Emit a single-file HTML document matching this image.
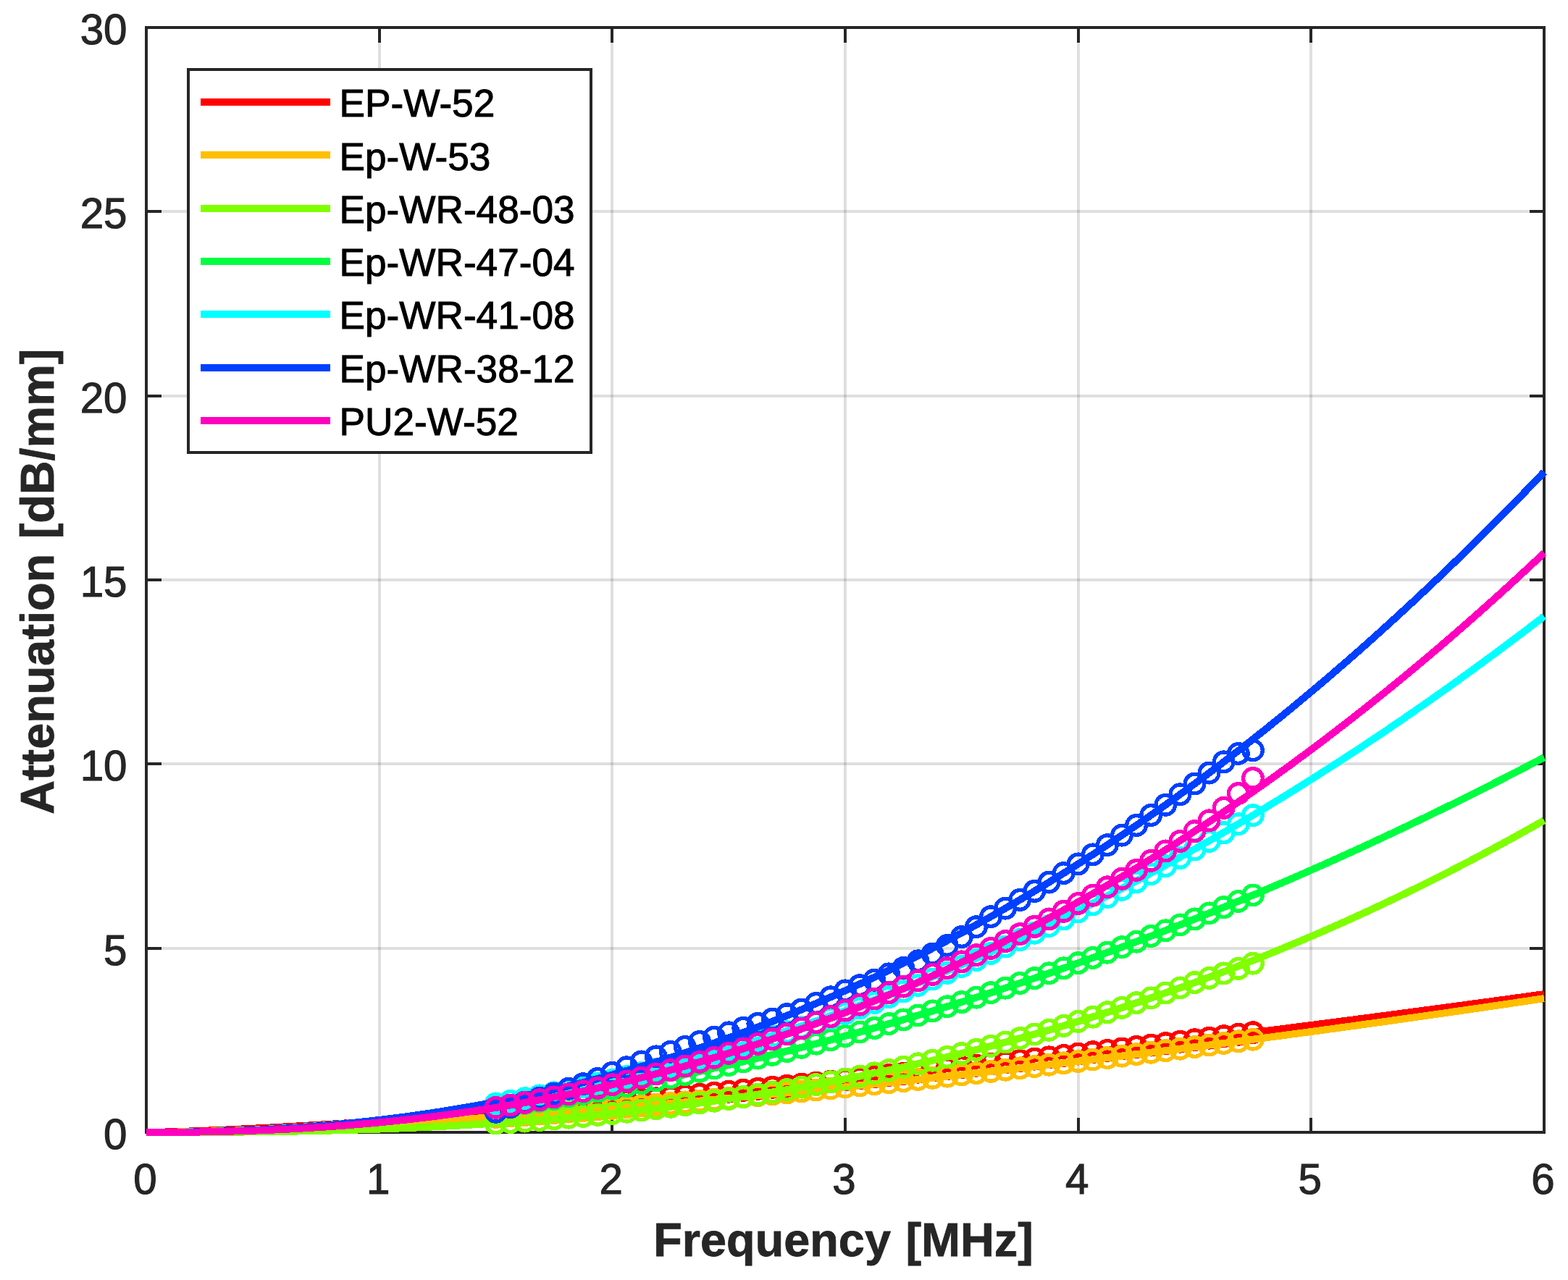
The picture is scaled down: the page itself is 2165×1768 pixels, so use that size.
<!DOCTYPE html><html><head><meta charset="utf-8"><style>
html,body{margin:0;padding:0;background:#fff;}svg{display:block;}polyline,path,line,rect{shape-rendering:crispEdges;}
text{font-family:"Liberation Sans",Arial,sans-serif;}
</style></head><body>
<svg width="2165" height="1768" viewBox="0 0 2165 1768">
<rect width="2165" height="1768" fill="#ffffff"/>
<path d="M523.67 38.00V1564.00M845.33 38.00V1564.00M1167.00 38.00V1564.00M1488.67 38.00V1564.00M1810.33 38.00V1564.00" stroke="#262626" stroke-opacity="0.15" stroke-width="3.8" fill="none"/>
<path d="M202.00 1309.67H2132.00M202.00 1055.33H2132.00M202.00 801.00H2132.00M202.00 546.67H2132.00M202.00 292.33H2132.00" stroke="#262626" stroke-opacity="0.15" stroke-width="3.8" fill="none"/>
<path d="M523.67 1564.00V1543.50M523.67 38.00V58.50M845.33 1564.00V1543.50M845.33 38.00V58.50M1167.00 1564.00V1543.50M1167.00 38.00V58.50M1488.67 1564.00V1543.50M1488.67 38.00V58.50M1810.33 1564.00V1543.50M1810.33 38.00V58.50M202.00 1309.67H222.50M2132.00 1309.67H2111.50M202.00 1055.33H222.50M2132.00 1055.33H2111.50M202.00 801.00H222.50M2132.00 801.00H2111.50M202.00 546.67H222.50M2132.00 546.67H2111.50M202.00 292.33H222.50M2132.00 292.33H2111.50" stroke="#262626" stroke-width="3.8" fill="none"/>
<rect x="202.0" y="38.0" width="1930.0" height="1526.0" stroke="#262626" stroke-width="3.8" fill="none"/>
<polyline points="202.00,1564.00 218.08,1563.76 234.17,1563.37 250.25,1562.89 266.33,1562.34 282.42,1561.74 298.50,1561.08 314.58,1560.38 330.67,1559.64 346.75,1558.86 362.83,1558.04 378.92,1557.20 395.00,1556.32 411.08,1555.41 427.17,1554.47 443.25,1553.51 459.33,1552.52 475.42,1551.51 491.50,1550.47 507.58,1549.41 523.67,1548.33 539.75,1547.23 555.83,1546.10 571.92,1544.96 588.00,1543.79 604.08,1542.61 620.17,1541.41 636.25,1540.18 652.33,1538.94 668.42,1537.69 684.50,1536.41 700.58,1535.12 716.67,1533.81 732.75,1532.49 748.83,1531.15 764.92,1529.79 781.00,1528.42 797.08,1527.03 813.17,1525.63 829.25,1524.22 845.33,1522.78 861.42,1521.34 877.50,1519.88 893.58,1518.41 909.67,1516.92 925.75,1515.42 941.83,1513.91 957.92,1512.38 974.00,1510.84 990.08,1509.29 1006.17,1507.73 1022.25,1506.15 1038.33,1504.56 1054.42,1502.96 1070.50,1501.35 1086.58,1499.73 1102.67,1498.09 1118.75,1496.44 1134.83,1494.78 1150.92,1493.11 1167.00,1491.43 1183.08,1489.73 1199.17,1488.03 1215.25,1486.32 1231.33,1484.59 1247.42,1482.85 1263.50,1481.11 1279.58,1479.35 1295.67,1477.58 1311.75,1475.80 1327.83,1474.01 1343.92,1472.21 1360.00,1470.40 1376.08,1468.59 1392.17,1466.76 1408.25,1464.92 1424.33,1463.07 1440.42,1461.21 1456.50,1459.34 1472.58,1457.47 1488.67,1455.58 1504.75,1453.69 1520.83,1451.78 1536.92,1449.87 1553.00,1447.94 1569.08,1446.01 1585.17,1444.07 1601.25,1442.12 1617.33,1440.16 1633.42,1438.19 1649.50,1436.22 1665.58,1434.23 1681.67,1432.24 1697.75,1430.23 1713.83,1428.22 1729.92,1426.20 1746.00,1424.17 1762.08,1422.14 1778.17,1420.09 1794.25,1418.04 1810.33,1415.98 1826.42,1413.91 1842.50,1411.83 1858.58,1409.75 1874.67,1407.65 1890.75,1405.55 1906.83,1403.44 1922.92,1401.32 1939.00,1399.20 1955.08,1397.06 1971.17,1394.92 1987.25,1392.77 2003.33,1390.62 2019.42,1388.45 2035.50,1386.28 2051.58,1384.10 2067.67,1381.92 2083.75,1379.72 2099.83,1377.52 2115.92,1375.31 2132.00,1373.10" stroke="#ff0000" stroke-width="10.0" fill="none" stroke-linejoin="round"/>
<path d="M671.20 1536.41a13.3 13.3 0 1 0 26.6 0a13.3 13.3 0 1 0 -26.6 0M691.30 1534.79a13.3 13.3 0 1 0 26.6 0a13.3 13.3 0 1 0 -26.6 0M711.41 1533.15a13.3 13.3 0 1 0 26.6 0a13.3 13.3 0 1 0 -26.6 0M731.51 1531.48a13.3 13.3 0 1 0 26.6 0a13.3 13.3 0 1 0 -26.6 0M751.62 1529.79a13.3 13.3 0 1 0 26.6 0a13.3 13.3 0 1 0 -26.6 0M771.72 1528.07a13.3 13.3 0 1 0 26.6 0a13.3 13.3 0 1 0 -26.6 0M791.83 1526.33a13.3 13.3 0 1 0 26.6 0a13.3 13.3 0 1 0 -26.6 0M811.93 1524.57a13.3 13.3 0 1 0 26.6 0a13.3 13.3 0 1 0 -26.6 0M832.03 1522.78a13.3 13.3 0 1 0 26.6 0a13.3 13.3 0 1 0 -26.6 0M852.14 1520.98a13.3 13.3 0 1 0 26.6 0a13.3 13.3 0 1 0 -26.6 0M872.24 1519.15a13.3 13.3 0 1 0 26.6 0a13.3 13.3 0 1 0 -26.6 0M892.35 1517.29a13.3 13.3 0 1 0 26.6 0a13.3 13.3 0 1 0 -26.6 0M912.45 1515.42a13.3 13.3 0 1 0 26.6 0a13.3 13.3 0 1 0 -26.6 0M932.55 1513.53a13.3 13.3 0 1 0 26.6 0a13.3 13.3 0 1 0 -26.6 0M952.66 1511.62a13.3 13.3 0 1 0 26.6 0a13.3 13.3 0 1 0 -26.6 0M972.76 1509.68a13.3 13.3 0 1 0 26.6 0a13.3 13.3 0 1 0 -26.6 0M992.87 1507.73a13.3 13.3 0 1 0 26.6 0a13.3 13.3 0 1 0 -26.6 0M1012.97 1505.76a13.3 13.3 0 1 0 26.6 0a13.3 13.3 0 1 0 -26.6 0M1033.08 1503.76a13.3 13.3 0 1 0 26.6 0a13.3 13.3 0 1 0 -26.6 0M1053.18 1501.75a13.3 13.3 0 1 0 26.6 0a13.3 13.3 0 1 0 -26.6 0M1073.28 1499.73a13.3 13.3 0 1 0 26.6 0a13.3 13.3 0 1 0 -26.6 0M1093.39 1497.68a13.3 13.3 0 1 0 26.6 0a13.3 13.3 0 1 0 -26.6 0M1113.49 1495.61a13.3 13.3 0 1 0 26.6 0a13.3 13.3 0 1 0 -26.6 0M1133.60 1493.53a13.3 13.3 0 1 0 26.6 0a13.3 13.3 0 1 0 -26.6 0M1153.70 1491.43a13.3 13.3 0 1 0 26.6 0a13.3 13.3 0 1 0 -26.6 0M1173.80 1489.31a13.3 13.3 0 1 0 26.6 0a13.3 13.3 0 1 0 -26.6 0M1193.91 1487.17a13.3 13.3 0 1 0 26.6 0a13.3 13.3 0 1 0 -26.6 0M1214.01 1485.02a13.3 13.3 0 1 0 26.6 0a13.3 13.3 0 1 0 -26.6 0M1234.12 1482.85a13.3 13.3 0 1 0 26.6 0a13.3 13.3 0 1 0 -26.6 0M1254.22 1480.67a13.3 13.3 0 1 0 26.6 0a13.3 13.3 0 1 0 -26.6 0M1274.33 1478.46a13.3 13.3 0 1 0 26.6 0a13.3 13.3 0 1 0 -26.6 0M1294.43 1476.25a13.3 13.3 0 1 0 26.6 0a13.3 13.3 0 1 0 -26.6 0M1314.53 1474.01a13.3 13.3 0 1 0 26.6 0a13.3 13.3 0 1 0 -26.6 0M1334.64 1471.76a13.3 13.3 0 1 0 26.6 0a13.3 13.3 0 1 0 -26.6 0M1354.74 1469.50a13.3 13.3 0 1 0 26.6 0a13.3 13.3 0 1 0 -26.6 0M1374.85 1467.22a13.3 13.3 0 1 0 26.6 0a13.3 13.3 0 1 0 -26.6 0M1394.95 1464.92a13.3 13.3 0 1 0 26.6 0a13.3 13.3 0 1 0 -26.6 0M1415.05 1462.61a13.3 13.3 0 1 0 26.6 0a13.3 13.3 0 1 0 -26.6 0M1435.16 1460.28a13.3 13.3 0 1 0 26.6 0a13.3 13.3 0 1 0 -26.6 0M1455.26 1457.94a13.3 13.3 0 1 0 26.6 0a13.3 13.3 0 1 0 -26.6 0M1475.37 1455.58a13.3 13.3 0 1 0 26.6 0a13.3 13.3 0 1 0 -26.6 0M1495.47 1453.21a13.3 13.3 0 1 0 26.6 0a13.3 13.3 0 1 0 -26.6 0M1515.58 1450.83a13.3 13.3 0 1 0 26.6 0a13.3 13.3 0 1 0 -26.6 0M1535.68 1448.43a13.3 13.3 0 1 0 26.6 0a13.3 13.3 0 1 0 -26.6 0M1555.78 1446.01a13.3 13.3 0 1 0 26.6 0a13.3 13.3 0 1 0 -26.6 0M1575.89 1443.58a13.3 13.3 0 1 0 26.6 0a13.3 13.3 0 1 0 -26.6 0M1595.99 1441.14a13.3 13.3 0 1 0 26.6 0a13.3 13.3 0 1 0 -26.6 0M1616.10 1438.69a13.3 13.3 0 1 0 26.6 0a13.3 13.3 0 1 0 -26.6 0M1636.20 1436.22a13.3 13.3 0 1 0 26.6 0a13.3 13.3 0 1 0 -26.6 0M1656.30 1433.73a13.3 13.3 0 1 0 26.6 0a13.3 13.3 0 1 0 -26.6 0M1676.41 1431.24a13.3 13.3 0 1 0 26.6 0a13.3 13.3 0 1 0 -26.6 0M1696.51 1428.73a13.3 13.3 0 1 0 26.6 0a13.3 13.3 0 1 0 -26.6 0M1716.62 1426.20a13.3 13.3 0 1 0 26.6 0a13.3 13.3 0 1 0 -26.6 0" stroke="#ff0000" stroke-width="5.3" fill="none"/>
<polyline points="202.00,1564.00 218.08,1563.90 234.17,1563.69 250.25,1563.42 266.33,1563.10 282.42,1562.72 298.50,1562.30 314.58,1561.83 330.67,1561.33 346.75,1560.79 362.83,1560.21 378.92,1559.60 395.00,1558.96 411.08,1558.29 427.17,1557.58 443.25,1556.85 459.33,1556.09 475.42,1555.31 491.50,1554.49 507.58,1553.65 523.67,1552.79 539.75,1551.90 555.83,1550.99 571.92,1550.05 588.00,1549.09 604.08,1548.11 620.17,1547.10 636.25,1546.07 652.33,1545.02 668.42,1543.95 684.50,1542.86 700.58,1541.75 716.67,1540.61 732.75,1539.46 748.83,1538.29 764.92,1537.09 781.00,1535.88 797.08,1534.65 813.17,1533.40 829.25,1532.13 845.33,1530.84 861.42,1529.54 877.50,1528.21 893.58,1526.87 909.67,1525.51 925.75,1524.14 941.83,1522.74 957.92,1521.33 974.00,1519.90 990.08,1518.46 1006.17,1516.99 1022.25,1515.51 1038.33,1514.02 1054.42,1512.51 1070.50,1510.98 1086.58,1509.43 1102.67,1507.87 1118.75,1506.30 1134.83,1504.71 1150.92,1503.10 1167.00,1501.48 1183.08,1499.84 1199.17,1498.19 1215.25,1496.52 1231.33,1494.84 1247.42,1493.14 1263.50,1491.43 1279.58,1489.70 1295.67,1487.96 1311.75,1486.20 1327.83,1484.43 1343.92,1482.64 1360.00,1480.84 1376.08,1479.03 1392.17,1477.20 1408.25,1475.36 1424.33,1473.50 1440.42,1471.63 1456.50,1469.75 1472.58,1467.85 1488.67,1465.94 1504.75,1464.02 1520.83,1462.08 1536.92,1460.13 1553.00,1458.17 1569.08,1456.19 1585.17,1454.20 1601.25,1452.19 1617.33,1450.18 1633.42,1448.15 1649.50,1446.11 1665.58,1444.05 1681.67,1441.98 1697.75,1439.90 1713.83,1437.81 1729.92,1435.70 1746.00,1433.58 1762.08,1431.45 1778.17,1429.31 1794.25,1427.15 1810.33,1424.98 1826.42,1422.80 1842.50,1420.61 1858.58,1418.40 1874.67,1416.19 1890.75,1413.96 1906.83,1411.71 1922.92,1409.46 1939.00,1407.20 1955.08,1404.92 1971.17,1402.63 1987.25,1400.33 2003.33,1398.02 2019.42,1395.69 2035.50,1393.36 2051.58,1391.01 2067.67,1388.65 2083.75,1386.28 2099.83,1383.90 2115.92,1381.50 2132.00,1379.10" stroke="#ffbf00" stroke-width="10.0" fill="none" stroke-linejoin="round"/>
<path d="M671.20 1542.86a13.3 13.3 0 1 0 26.6 0a13.3 13.3 0 1 0 -26.6 0M691.30 1541.47a13.3 13.3 0 1 0 26.6 0a13.3 13.3 0 1 0 -26.6 0M711.41 1540.04a13.3 13.3 0 1 0 26.6 0a13.3 13.3 0 1 0 -26.6 0M731.51 1538.58a13.3 13.3 0 1 0 26.6 0a13.3 13.3 0 1 0 -26.6 0M751.62 1537.09a13.3 13.3 0 1 0 26.6 0a13.3 13.3 0 1 0 -26.6 0M771.72 1535.58a13.3 13.3 0 1 0 26.6 0a13.3 13.3 0 1 0 -26.6 0M791.83 1534.03a13.3 13.3 0 1 0 26.6 0a13.3 13.3 0 1 0 -26.6 0M811.93 1532.45a13.3 13.3 0 1 0 26.6 0a13.3 13.3 0 1 0 -26.6 0M832.03 1530.84a13.3 13.3 0 1 0 26.6 0a13.3 13.3 0 1 0 -26.6 0M852.14 1529.21a13.3 13.3 0 1 0 26.6 0a13.3 13.3 0 1 0 -26.6 0M872.24 1527.55a13.3 13.3 0 1 0 26.6 0a13.3 13.3 0 1 0 -26.6 0M892.35 1525.85a13.3 13.3 0 1 0 26.6 0a13.3 13.3 0 1 0 -26.6 0M912.45 1524.14a13.3 13.3 0 1 0 26.6 0a13.3 13.3 0 1 0 -26.6 0M932.55 1522.39a13.3 13.3 0 1 0 26.6 0a13.3 13.3 0 1 0 -26.6 0M952.66 1520.62a13.3 13.3 0 1 0 26.6 0a13.3 13.3 0 1 0 -26.6 0M972.76 1518.82a13.3 13.3 0 1 0 26.6 0a13.3 13.3 0 1 0 -26.6 0M992.87 1516.99a13.3 13.3 0 1 0 26.6 0a13.3 13.3 0 1 0 -26.6 0M1012.97 1515.14a13.3 13.3 0 1 0 26.6 0a13.3 13.3 0 1 0 -26.6 0M1033.08 1513.26a13.3 13.3 0 1 0 26.6 0a13.3 13.3 0 1 0 -26.6 0M1053.18 1511.36a13.3 13.3 0 1 0 26.6 0a13.3 13.3 0 1 0 -26.6 0M1073.28 1509.43a13.3 13.3 0 1 0 26.6 0a13.3 13.3 0 1 0 -26.6 0M1093.39 1507.48a13.3 13.3 0 1 0 26.6 0a13.3 13.3 0 1 0 -26.6 0M1113.49 1505.51a13.3 13.3 0 1 0 26.6 0a13.3 13.3 0 1 0 -26.6 0M1133.60 1503.50a13.3 13.3 0 1 0 26.6 0a13.3 13.3 0 1 0 -26.6 0M1153.70 1501.48a13.3 13.3 0 1 0 26.6 0a13.3 13.3 0 1 0 -26.6 0M1173.80 1499.43a13.3 13.3 0 1 0 26.6 0a13.3 13.3 0 1 0 -26.6 0M1193.91 1497.36a13.3 13.3 0 1 0 26.6 0a13.3 13.3 0 1 0 -26.6 0M1214.01 1495.26a13.3 13.3 0 1 0 26.6 0a13.3 13.3 0 1 0 -26.6 0M1234.12 1493.14a13.3 13.3 0 1 0 26.6 0a13.3 13.3 0 1 0 -26.6 0M1254.22 1491.00a13.3 13.3 0 1 0 26.6 0a13.3 13.3 0 1 0 -26.6 0M1274.33 1488.83a13.3 13.3 0 1 0 26.6 0a13.3 13.3 0 1 0 -26.6 0M1294.43 1486.64a13.3 13.3 0 1 0 26.6 0a13.3 13.3 0 1 0 -26.6 0M1314.53 1484.43a13.3 13.3 0 1 0 26.6 0a13.3 13.3 0 1 0 -26.6 0M1334.64 1482.19a13.3 13.3 0 1 0 26.6 0a13.3 13.3 0 1 0 -26.6 0M1354.74 1479.94a13.3 13.3 0 1 0 26.6 0a13.3 13.3 0 1 0 -26.6 0M1374.85 1477.66a13.3 13.3 0 1 0 26.6 0a13.3 13.3 0 1 0 -26.6 0M1394.95 1475.36a13.3 13.3 0 1 0 26.6 0a13.3 13.3 0 1 0 -26.6 0M1415.05 1473.04a13.3 13.3 0 1 0 26.6 0a13.3 13.3 0 1 0 -26.6 0M1435.16 1470.69a13.3 13.3 0 1 0 26.6 0a13.3 13.3 0 1 0 -26.6 0M1455.26 1468.33a13.3 13.3 0 1 0 26.6 0a13.3 13.3 0 1 0 -26.6 0M1475.37 1465.94a13.3 13.3 0 1 0 26.6 0a13.3 13.3 0 1 0 -26.6 0M1495.47 1463.54a13.3 13.3 0 1 0 26.6 0a13.3 13.3 0 1 0 -26.6 0M1515.58 1461.11a13.3 13.3 0 1 0 26.6 0a13.3 13.3 0 1 0 -26.6 0M1535.68 1458.66a13.3 13.3 0 1 0 26.6 0a13.3 13.3 0 1 0 -26.6 0M1555.78 1456.19a13.3 13.3 0 1 0 26.6 0a13.3 13.3 0 1 0 -26.6 0M1575.89 1453.70a13.3 13.3 0 1 0 26.6 0a13.3 13.3 0 1 0 -26.6 0M1595.99 1451.19a13.3 13.3 0 1 0 26.6 0a13.3 13.3 0 1 0 -26.6 0M1616.10 1448.66a13.3 13.3 0 1 0 26.6 0a13.3 13.3 0 1 0 -26.6 0M1636.20 1446.11a13.3 13.3 0 1 0 26.6 0a13.3 13.3 0 1 0 -26.6 0M1656.30 1443.53a13.3 13.3 0 1 0 26.6 0a13.3 13.3 0 1 0 -26.6 0M1676.41 1440.94a13.3 13.3 0 1 0 26.6 0a13.3 13.3 0 1 0 -26.6 0M1696.51 1438.33a13.3 13.3 0 1 0 26.6 0a13.3 13.3 0 1 0 -26.6 0M1716.62 1435.70a13.3 13.3 0 1 0 26.6 0a13.3 13.3 0 1 0 -26.6 0" stroke="#ffbf00" stroke-width="5.3" fill="none"/>
<polyline points="202.00,1564.00 218.08,1564.00 234.17,1563.99 250.25,1563.96 266.33,1563.93 282.42,1563.87 298.50,1563.79 314.58,1563.69 330.67,1563.57 346.75,1563.42 362.83,1563.24 378.92,1563.03 395.00,1562.79 411.08,1562.51 427.17,1562.20 443.25,1561.86 459.33,1561.48 475.42,1561.05 491.50,1560.59 507.58,1560.09 523.67,1559.54 539.75,1558.95 555.83,1558.31 571.92,1557.63 588.00,1556.90 604.08,1556.12 620.17,1555.29 636.25,1554.41 652.33,1553.48 668.42,1552.49 684.50,1551.45 700.58,1550.36 716.67,1549.21 732.75,1548.00 748.83,1546.73 764.92,1545.41 781.00,1544.02 797.08,1542.57 813.17,1541.07 829.25,1539.50 845.33,1537.86 861.42,1536.16 877.50,1534.40 893.58,1532.56 909.67,1530.67 925.75,1528.70 941.83,1526.66 957.92,1524.56 974.00,1522.38 990.08,1520.14 1006.17,1517.82 1022.25,1515.42 1038.33,1512.96 1054.42,1510.42 1070.50,1507.80 1086.58,1505.11 1102.67,1502.34 1118.75,1499.49 1134.83,1496.56 1150.92,1493.56 1167.00,1490.47 1183.08,1487.30 1199.17,1484.06 1215.25,1480.73 1231.33,1477.31 1247.42,1473.82 1263.50,1470.23 1279.58,1466.57 1295.67,1462.81 1311.75,1458.98 1327.83,1455.05 1343.92,1451.04 1360.00,1446.93 1376.08,1442.74 1392.17,1438.46 1408.25,1434.09 1424.33,1429.62 1440.42,1425.07 1456.50,1420.42 1472.58,1415.67 1488.67,1410.84 1504.75,1405.91 1520.83,1400.88 1536.92,1395.76 1553.00,1390.54 1569.08,1385.22 1585.17,1379.81 1601.25,1374.30 1617.33,1368.69 1633.42,1362.97 1649.50,1357.16 1665.58,1351.25 1681.67,1345.24 1697.75,1339.12 1713.83,1332.90 1729.92,1326.58 1746.00,1320.15 1762.08,1313.62 1778.17,1306.98 1794.25,1300.24 1810.33,1293.39 1826.42,1286.43 1842.50,1279.37 1858.58,1272.20 1874.67,1264.92 1890.75,1257.53 1906.83,1250.03 1922.92,1242.42 1939.00,1234.69 1955.08,1226.86 1971.17,1218.91 1987.25,1210.86 2003.33,1202.68 2019.42,1194.40 2035.50,1186.00 2051.58,1177.48 2067.67,1168.85 2083.75,1160.10 2099.83,1151.24 2115.92,1142.26 2132.00,1133.16" stroke="#80ff00" stroke-width="10.0" fill="none" stroke-linejoin="round"/>
<path d="M671.20 1551.45a13.3 13.3 0 1 0 26.6 0a13.3 13.3 0 1 0 -26.6 0M691.30 1550.07a13.3 13.3 0 1 0 26.6 0a13.3 13.3 0 1 0 -26.6 0M711.41 1548.61a13.3 13.3 0 1 0 26.6 0a13.3 13.3 0 1 0 -26.6 0M731.51 1547.05a13.3 13.3 0 1 0 26.6 0a13.3 13.3 0 1 0 -26.6 0M751.62 1545.41a13.3 13.3 0 1 0 26.6 0a13.3 13.3 0 1 0 -26.6 0M771.72 1543.66a13.3 13.3 0 1 0 26.6 0a13.3 13.3 0 1 0 -26.6 0M791.83 1541.83a13.3 13.3 0 1 0 26.6 0a13.3 13.3 0 1 0 -26.6 0M811.93 1539.89a13.3 13.3 0 1 0 26.6 0a13.3 13.3 0 1 0 -26.6 0M832.03 1537.86a13.3 13.3 0 1 0 26.6 0a13.3 13.3 0 1 0 -26.6 0M852.14 1535.73a13.3 13.3 0 1 0 26.6 0a13.3 13.3 0 1 0 -26.6 0M872.24 1533.49a13.3 13.3 0 1 0 26.6 0a13.3 13.3 0 1 0 -26.6 0M892.35 1531.15a13.3 13.3 0 1 0 26.6 0a13.3 13.3 0 1 0 -26.6 0M912.45 1528.70a13.3 13.3 0 1 0 26.6 0a13.3 13.3 0 1 0 -26.6 0M932.55 1526.14a13.3 13.3 0 1 0 26.6 0a13.3 13.3 0 1 0 -26.6 0M952.66 1523.48a13.3 13.3 0 1 0 26.6 0a13.3 13.3 0 1 0 -26.6 0M972.76 1520.70a13.3 13.3 0 1 0 26.6 0a13.3 13.3 0 1 0 -26.6 0M992.87 1517.82a13.3 13.3 0 1 0 26.6 0a13.3 13.3 0 1 0 -26.6 0M1012.97 1514.81a13.3 13.3 0 1 0 26.6 0a13.3 13.3 0 1 0 -26.6 0M1033.08 1511.70a13.3 13.3 0 1 0 26.6 0a13.3 13.3 0 1 0 -26.6 0M1053.18 1508.46a13.3 13.3 0 1 0 26.6 0a13.3 13.3 0 1 0 -26.6 0M1073.28 1505.11a13.3 13.3 0 1 0 26.6 0a13.3 13.3 0 1 0 -26.6 0M1093.39 1501.63a13.3 13.3 0 1 0 26.6 0a13.3 13.3 0 1 0 -26.6 0M1113.49 1498.03a13.3 13.3 0 1 0 26.6 0a13.3 13.3 0 1 0 -26.6 0M1133.60 1494.31a13.3 13.3 0 1 0 26.6 0a13.3 13.3 0 1 0 -26.6 0M1153.70 1490.47a13.3 13.3 0 1 0 26.6 0a13.3 13.3 0 1 0 -26.6 0M1173.80 1486.50a13.3 13.3 0 1 0 26.6 0a13.3 13.3 0 1 0 -26.6 0M1193.91 1482.40a13.3 13.3 0 1 0 26.6 0a13.3 13.3 0 1 0 -26.6 0M1214.01 1478.17a13.3 13.3 0 1 0 26.6 0a13.3 13.3 0 1 0 -26.6 0M1234.12 1473.82a13.3 13.3 0 1 0 26.6 0a13.3 13.3 0 1 0 -26.6 0M1254.22 1469.33a13.3 13.3 0 1 0 26.6 0a13.3 13.3 0 1 0 -26.6 0M1274.33 1464.70a13.3 13.3 0 1 0 26.6 0a13.3 13.3 0 1 0 -26.6 0M1294.43 1459.94a13.3 13.3 0 1 0 26.6 0a13.3 13.3 0 1 0 -26.6 0M1314.53 1455.05a13.3 13.3 0 1 0 26.6 0a13.3 13.3 0 1 0 -26.6 0M1334.64 1450.02a13.3 13.3 0 1 0 26.6 0a13.3 13.3 0 1 0 -26.6 0M1354.74 1444.85a13.3 13.3 0 1 0 26.6 0a13.3 13.3 0 1 0 -26.6 0M1374.85 1439.54a13.3 13.3 0 1 0 26.6 0a13.3 13.3 0 1 0 -26.6 0M1394.95 1434.09a13.3 13.3 0 1 0 26.6 0a13.3 13.3 0 1 0 -26.6 0M1415.05 1428.49a13.3 13.3 0 1 0 26.6 0a13.3 13.3 0 1 0 -26.6 0M1435.16 1422.75a13.3 13.3 0 1 0 26.6 0a13.3 13.3 0 1 0 -26.6 0M1455.26 1416.87a13.3 13.3 0 1 0 26.6 0a13.3 13.3 0 1 0 -26.6 0M1475.37 1410.84a13.3 13.3 0 1 0 26.6 0a13.3 13.3 0 1 0 -26.6 0M1495.47 1404.66a13.3 13.3 0 1 0 26.6 0a13.3 13.3 0 1 0 -26.6 0M1515.58 1398.33a13.3 13.3 0 1 0 26.6 0a13.3 13.3 0 1 0 -26.6 0M1535.68 1391.85a13.3 13.3 0 1 0 26.6 0a13.3 13.3 0 1 0 -26.6 0M1555.78 1385.22a13.3 13.3 0 1 0 26.6 0a13.3 13.3 0 1 0 -26.6 0M1575.89 1378.44a13.3 13.3 0 1 0 26.6 0a13.3 13.3 0 1 0 -26.6 0M1595.99 1371.50a13.3 13.3 0 1 0 26.6 0a13.3 13.3 0 1 0 -26.6 0M1616.10 1364.41a13.3 13.3 0 1 0 26.6 0a13.3 13.3 0 1 0 -26.6 0M1636.20 1357.16a13.3 13.3 0 1 0 26.6 0a13.3 13.3 0 1 0 -26.6 0M1656.30 1350.87a13.3 13.3 0 1 0 26.6 0a13.3 13.3 0 1 0 -26.6 0M1676.41 1344.43a13.3 13.3 0 1 0 26.6 0a13.3 13.3 0 1 0 -26.6 0M1696.51 1337.82a13.3 13.3 0 1 0 26.6 0a13.3 13.3 0 1 0 -26.6 0M1716.62 1330.65a13.3 13.3 0 1 0 26.6 0a13.3 13.3 0 1 0 -26.6 0" stroke="#80ff00" stroke-width="5.3" fill="none"/>
<polyline points="202.00,1564.00 218.08,1563.96 234.17,1563.83 250.25,1563.63 266.33,1563.34 282.42,1562.98 298.50,1562.54 314.58,1562.03 330.67,1561.44 346.75,1560.78 362.83,1560.04 378.92,1559.22 395.00,1558.33 411.08,1557.37 427.17,1556.33 443.25,1555.22 459.33,1554.04 475.42,1552.78 491.50,1551.45 507.58,1550.05 523.67,1548.57 539.75,1547.02 555.83,1545.40 571.92,1543.71 588.00,1541.94 604.08,1540.10 620.17,1538.19 636.25,1536.21 652.33,1534.16 668.42,1532.03 684.50,1529.83 700.58,1527.57 716.67,1525.22 732.75,1522.81 748.83,1520.33 764.92,1517.78 781.00,1515.15 797.08,1512.45 813.17,1509.69 829.25,1506.85 845.33,1503.94 861.42,1500.96 877.50,1497.91 893.58,1494.79 909.67,1491.60 925.75,1488.34 941.83,1485.00 957.92,1481.60 974.00,1478.13 990.08,1474.58 1006.17,1470.97 1022.25,1467.29 1038.33,1463.53 1054.42,1459.71 1070.50,1455.82 1086.58,1451.85 1102.67,1447.82 1118.75,1443.72 1134.83,1439.54 1150.92,1435.30 1167.00,1430.99 1183.08,1426.61 1199.17,1422.16 1215.25,1417.64 1231.33,1413.04 1247.42,1408.38 1263.50,1403.66 1279.58,1398.86 1295.67,1393.99 1311.75,1389.05 1327.83,1384.05 1343.92,1378.97 1360.00,1373.82 1376.08,1368.61 1392.17,1363.33 1408.25,1357.98 1424.33,1352.55 1440.42,1347.06 1456.50,1341.51 1472.58,1335.88 1488.67,1330.18 1504.75,1324.41 1520.83,1318.58 1536.92,1312.68 1553.00,1306.71 1569.08,1300.66 1585.17,1294.55 1601.25,1288.38 1617.33,1282.13 1633.42,1275.82 1649.50,1269.43 1665.58,1262.98 1681.67,1256.46 1697.75,1249.87 1713.83,1243.21 1729.92,1236.49 1746.00,1229.69 1762.08,1222.83 1778.17,1215.90 1794.25,1208.90 1810.33,1201.83 1826.42,1194.69 1842.50,1187.49 1858.58,1180.22 1874.67,1172.88 1890.75,1165.47 1906.83,1157.99 1922.92,1150.45 1939.00,1142.83 1955.08,1135.15 1971.17,1127.40 1987.25,1119.59 2003.33,1111.70 2019.42,1103.75 2035.50,1095.73 2051.58,1087.64 2067.67,1079.48 2083.75,1071.26 2099.83,1062.97 2115.92,1054.61 2132.00,1046.18" stroke="#00ff40" stroke-width="10.0" fill="none" stroke-linejoin="round"/>
<path d="M671.20 1529.83a13.3 13.3 0 1 0 26.6 0a13.3 13.3 0 1 0 -26.6 0M691.30 1526.99a13.3 13.3 0 1 0 26.6 0a13.3 13.3 0 1 0 -26.6 0M711.41 1524.03a13.3 13.3 0 1 0 26.6 0a13.3 13.3 0 1 0 -26.6 0M731.51 1520.96a13.3 13.3 0 1 0 26.6 0a13.3 13.3 0 1 0 -26.6 0M751.62 1517.78a13.3 13.3 0 1 0 26.6 0a13.3 13.3 0 1 0 -26.6 0M771.72 1514.48a13.3 13.3 0 1 0 26.6 0a13.3 13.3 0 1 0 -26.6 0M791.83 1511.08a13.3 13.3 0 1 0 26.6 0a13.3 13.3 0 1 0 -26.6 0M811.93 1507.56a13.3 13.3 0 1 0 26.6 0a13.3 13.3 0 1 0 -26.6 0M832.03 1503.94a13.3 13.3 0 1 0 26.6 0a13.3 13.3 0 1 0 -26.6 0M852.14 1500.20a13.3 13.3 0 1 0 26.6 0a13.3 13.3 0 1 0 -26.6 0M872.24 1496.36a13.3 13.3 0 1 0 26.6 0a13.3 13.3 0 1 0 -26.6 0M892.35 1492.40a13.3 13.3 0 1 0 26.6 0a13.3 13.3 0 1 0 -26.6 0M912.45 1488.34a13.3 13.3 0 1 0 26.6 0a13.3 13.3 0 1 0 -26.6 0M932.55 1484.16a13.3 13.3 0 1 0 26.6 0a13.3 13.3 0 1 0 -26.6 0M952.66 1479.87a13.3 13.3 0 1 0 26.6 0a13.3 13.3 0 1 0 -26.6 0M972.76 1475.48a13.3 13.3 0 1 0 26.6 0a13.3 13.3 0 1 0 -26.6 0M992.87 1470.97a13.3 13.3 0 1 0 26.6 0a13.3 13.3 0 1 0 -26.6 0M1012.97 1466.36a13.3 13.3 0 1 0 26.6 0a13.3 13.3 0 1 0 -26.6 0M1033.08 1461.63a13.3 13.3 0 1 0 26.6 0a13.3 13.3 0 1 0 -26.6 0M1053.18 1456.80a13.3 13.3 0 1 0 26.6 0a13.3 13.3 0 1 0 -26.6 0M1073.28 1451.85a13.3 13.3 0 1 0 26.6 0a13.3 13.3 0 1 0 -26.6 0M1093.39 1446.80a13.3 13.3 0 1 0 26.6 0a13.3 13.3 0 1 0 -26.6 0M1113.49 1441.64a13.3 13.3 0 1 0 26.6 0a13.3 13.3 0 1 0 -26.6 0M1133.60 1436.37a13.3 13.3 0 1 0 26.6 0a13.3 13.3 0 1 0 -26.6 0M1153.70 1430.99a13.3 13.3 0 1 0 26.6 0a13.3 13.3 0 1 0 -26.6 0M1173.80 1425.50a13.3 13.3 0 1 0 26.6 0a13.3 13.3 0 1 0 -26.6 0M1193.91 1419.90a13.3 13.3 0 1 0 26.6 0a13.3 13.3 0 1 0 -26.6 0M1214.01 1414.20a13.3 13.3 0 1 0 26.6 0a13.3 13.3 0 1 0 -26.6 0M1234.12 1408.38a13.3 13.3 0 1 0 26.6 0a13.3 13.3 0 1 0 -26.6 0M1254.22 1402.46a13.3 13.3 0 1 0 26.6 0a13.3 13.3 0 1 0 -26.6 0M1274.33 1396.43a13.3 13.3 0 1 0 26.6 0a13.3 13.3 0 1 0 -26.6 0M1294.43 1390.29a13.3 13.3 0 1 0 26.6 0a13.3 13.3 0 1 0 -26.6 0M1314.53 1384.05a13.3 13.3 0 1 0 26.6 0a13.3 13.3 0 1 0 -26.6 0M1334.64 1377.69a13.3 13.3 0 1 0 26.6 0a13.3 13.3 0 1 0 -26.6 0M1354.74 1371.23a13.3 13.3 0 1 0 26.6 0a13.3 13.3 0 1 0 -26.6 0M1374.85 1364.65a13.3 13.3 0 1 0 26.6 0a13.3 13.3 0 1 0 -26.6 0M1394.95 1357.98a13.3 13.3 0 1 0 26.6 0a13.3 13.3 0 1 0 -26.6 0M1415.05 1351.19a13.3 13.3 0 1 0 26.6 0a13.3 13.3 0 1 0 -26.6 0M1435.16 1344.29a13.3 13.3 0 1 0 26.6 0a13.3 13.3 0 1 0 -26.6 0M1455.26 1337.29a13.3 13.3 0 1 0 26.6 0a13.3 13.3 0 1 0 -26.6 0M1475.37 1330.18a13.3 13.3 0 1 0 26.6 0a13.3 13.3 0 1 0 -26.6 0M1495.47 1322.96a13.3 13.3 0 1 0 26.6 0a13.3 13.3 0 1 0 -26.6 0M1515.58 1315.64a13.3 13.3 0 1 0 26.6 0a13.3 13.3 0 1 0 -26.6 0M1535.68 1308.20a13.3 13.3 0 1 0 26.6 0a13.3 13.3 0 1 0 -26.6 0M1555.78 1300.66a13.3 13.3 0 1 0 26.6 0a13.3 13.3 0 1 0 -26.6 0M1575.89 1293.02a13.3 13.3 0 1 0 26.6 0a13.3 13.3 0 1 0 -26.6 0M1595.99 1285.26a13.3 13.3 0 1 0 26.6 0a13.3 13.3 0 1 0 -26.6 0M1616.10 1277.40a13.3 13.3 0 1 0 26.6 0a13.3 13.3 0 1 0 -26.6 0M1636.20 1269.43a13.3 13.3 0 1 0 26.6 0a13.3 13.3 0 1 0 -26.6 0M1656.30 1261.36a13.3 13.3 0 1 0 26.6 0a13.3 13.3 0 1 0 -26.6 0M1676.41 1253.17a13.3 13.3 0 1 0 26.6 0a13.3 13.3 0 1 0 -26.6 0M1696.51 1244.88a13.3 13.3 0 1 0 26.6 0a13.3 13.3 0 1 0 -26.6 0M1716.62 1236.49a13.3 13.3 0 1 0 26.6 0a13.3 13.3 0 1 0 -26.6 0" stroke="#00ff40" stroke-width="5.3" fill="none"/>
<polyline points="202.00,1564.00 218.08,1563.97 234.17,1563.86 250.25,1563.67 266.33,1563.41 282.42,1563.05 298.50,1562.62 314.58,1562.09 330.67,1561.48 346.75,1560.78 362.83,1559.99 378.92,1559.11 395.00,1558.14 411.08,1557.07 427.17,1555.91 443.25,1554.66 459.33,1553.32 475.42,1551.88 491.50,1550.35 507.58,1548.72 523.67,1546.99 539.75,1545.17 555.83,1543.25 571.92,1541.24 588.00,1539.13 604.08,1536.92 620.17,1534.61 636.25,1532.21 652.33,1529.70 668.42,1527.10 684.50,1524.40 700.58,1521.59 716.67,1518.69 732.75,1515.69 748.83,1512.59 764.92,1509.39 781.00,1506.08 797.08,1502.68 813.17,1499.17 829.25,1495.57 845.33,1491.86 861.42,1488.05 877.50,1484.13 893.58,1480.12 909.67,1476.00 925.75,1471.78 941.83,1467.45 957.92,1463.03 974.00,1458.50 990.08,1453.86 1006.17,1449.12 1022.25,1444.28 1038.33,1439.34 1054.42,1434.29 1070.50,1429.13 1086.58,1423.87 1102.67,1418.51 1118.75,1413.04 1134.83,1407.47 1150.92,1401.79 1167.00,1396.00 1183.08,1390.11 1199.17,1384.12 1215.25,1378.02 1231.33,1371.81 1247.42,1365.50 1263.50,1359.08 1279.58,1352.55 1295.67,1345.92 1311.75,1339.18 1327.83,1332.33 1343.92,1325.38 1360.00,1318.32 1376.08,1311.15 1392.17,1303.88 1408.25,1296.49 1424.33,1289.00 1440.42,1281.41 1456.50,1273.70 1472.58,1265.89 1488.67,1257.97 1504.75,1249.94 1520.83,1241.80 1536.92,1233.56 1553.00,1225.20 1569.08,1216.74 1585.17,1208.17 1601.25,1199.49 1617.33,1190.70 1633.42,1181.80 1649.50,1172.79 1665.58,1163.68 1681.67,1154.45 1697.75,1145.12 1713.83,1135.67 1729.92,1126.12 1746.00,1116.45 1762.08,1106.68 1778.17,1096.80 1794.25,1086.80 1810.33,1076.70 1826.42,1066.48 1842.50,1056.16 1858.58,1045.72 1874.67,1035.18 1890.75,1024.52 1906.83,1013.76 1922.92,1002.88 1939.00,991.89 1955.08,980.79 1971.17,969.58 1987.25,958.26 2003.33,946.83 2019.42,935.29 2035.50,923.63 2051.58,911.86 2067.67,899.99 2083.75,888.00 2099.83,875.90 2115.92,863.68 2132.00,851.36" stroke="#00ffff" stroke-width="10.0" fill="none" stroke-linejoin="round"/>
<path d="M671.20 1524.40a13.3 13.3 0 1 0 26.6 0a13.3 13.3 0 1 0 -26.6 0M691.30 1520.88a13.3 13.3 0 1 0 26.6 0a13.3 13.3 0 1 0 -26.6 0M711.41 1517.20a13.3 13.3 0 1 0 26.6 0a13.3 13.3 0 1 0 -26.6 0M731.51 1513.37a13.3 13.3 0 1 0 26.6 0a13.3 13.3 0 1 0 -26.6 0M751.62 1509.39a13.3 13.3 0 1 0 26.6 0a13.3 13.3 0 1 0 -26.6 0M771.72 1505.24a13.3 13.3 0 1 0 26.6 0a13.3 13.3 0 1 0 -26.6 0M791.83 1500.94a13.3 13.3 0 1 0 26.6 0a13.3 13.3 0 1 0 -26.6 0M811.93 1496.48a13.3 13.3 0 1 0 26.6 0a13.3 13.3 0 1 0 -26.6 0M832.03 1491.86a13.3 13.3 0 1 0 26.6 0a13.3 13.3 0 1 0 -26.6 0M852.14 1487.08a13.3 13.3 0 1 0 26.6 0a13.3 13.3 0 1 0 -26.6 0M872.24 1482.14a13.3 13.3 0 1 0 26.6 0a13.3 13.3 0 1 0 -26.6 0M892.35 1477.04a13.3 13.3 0 1 0 26.6 0a13.3 13.3 0 1 0 -26.6 0M912.45 1471.78a13.3 13.3 0 1 0 26.6 0a13.3 13.3 0 1 0 -26.6 0M932.55 1466.36a13.3 13.3 0 1 0 26.6 0a13.3 13.3 0 1 0 -26.6 0M952.66 1460.77a13.3 13.3 0 1 0 26.6 0a13.3 13.3 0 1 0 -26.6 0M972.76 1455.03a13.3 13.3 0 1 0 26.6 0a13.3 13.3 0 1 0 -26.6 0M992.87 1449.12a13.3 13.3 0 1 0 26.6 0a13.3 13.3 0 1 0 -26.6 0M1012.97 1443.06a13.3 13.3 0 1 0 26.6 0a13.3 13.3 0 1 0 -26.6 0M1033.08 1437.06a13.3 13.3 0 1 0 26.6 0a13.3 13.3 0 1 0 -26.6 0M1053.18 1431.27a13.3 13.3 0 1 0 26.6 0a13.3 13.3 0 1 0 -26.6 0M1073.28 1425.30a13.3 13.3 0 1 0 26.6 0a13.3 13.3 0 1 0 -26.6 0M1093.39 1419.18a13.3 13.3 0 1 0 26.6 0a13.3 13.3 0 1 0 -26.6 0M1113.49 1412.89a13.3 13.3 0 1 0 26.6 0a13.3 13.3 0 1 0 -26.6 0M1133.60 1406.44a13.3 13.3 0 1 0 26.6 0a13.3 13.3 0 1 0 -26.6 0M1153.70 1399.82a13.3 13.3 0 1 0 26.6 0a13.3 13.3 0 1 0 -26.6 0M1173.80 1392.44a13.3 13.3 0 1 0 26.6 0a13.3 13.3 0 1 0 -26.6 0M1193.91 1384.90a13.3 13.3 0 1 0 26.6 0a13.3 13.3 0 1 0 -26.6 0M1214.01 1377.19a13.3 13.3 0 1 0 26.6 0a13.3 13.3 0 1 0 -26.6 0M1234.12 1369.31a13.3 13.3 0 1 0 26.6 0a13.3 13.3 0 1 0 -26.6 0M1254.22 1360.98a13.3 13.3 0 1 0 26.6 0a13.3 13.3 0 1 0 -26.6 0M1274.33 1352.49a13.3 13.3 0 1 0 26.6 0a13.3 13.3 0 1 0 -26.6 0M1294.43 1343.83a13.3 13.3 0 1 0 26.6 0a13.3 13.3 0 1 0 -26.6 0M1314.53 1335.00a13.3 13.3 0 1 0 26.6 0a13.3 13.3 0 1 0 -26.6 0M1334.64 1326.01a13.3 13.3 0 1 0 26.6 0a13.3 13.3 0 1 0 -26.6 0M1354.74 1316.85a13.3 13.3 0 1 0 26.6 0a13.3 13.3 0 1 0 -26.6 0M1374.85 1307.52a13.3 13.3 0 1 0 26.6 0a13.3 13.3 0 1 0 -26.6 0M1394.95 1298.02a13.3 13.3 0 1 0 26.6 0a13.3 13.3 0 1 0 -26.6 0M1415.05 1288.64a13.3 13.3 0 1 0 26.6 0a13.3 13.3 0 1 0 -26.6 0M1435.16 1279.09a13.3 13.3 0 1 0 26.6 0a13.3 13.3 0 1 0 -26.6 0M1455.26 1269.38a13.3 13.3 0 1 0 26.6 0a13.3 13.3 0 1 0 -26.6 0M1475.37 1259.49a13.3 13.3 0 1 0 26.6 0a13.3 13.3 0 1 0 -26.6 0M1495.47 1249.44a13.3 13.3 0 1 0 26.6 0a13.3 13.3 0 1 0 -26.6 0M1515.58 1239.22a13.3 13.3 0 1 0 26.6 0a13.3 13.3 0 1 0 -26.6 0M1535.68 1228.83a13.3 13.3 0 1 0 26.6 0a13.3 13.3 0 1 0 -26.6 0M1555.78 1218.27a13.3 13.3 0 1 0 26.6 0a13.3 13.3 0 1 0 -26.6 0M1575.89 1207.34a13.3 13.3 0 1 0 26.6 0a13.3 13.3 0 1 0 -26.6 0M1595.99 1196.25a13.3 13.3 0 1 0 26.6 0a13.3 13.3 0 1 0 -26.6 0M1616.10 1184.99a13.3 13.3 0 1 0 26.6 0a13.3 13.3 0 1 0 -26.6 0M1636.20 1173.56a13.3 13.3 0 1 0 26.6 0a13.3 13.3 0 1 0 -26.6 0M1656.30 1161.95a13.3 13.3 0 1 0 26.6 0a13.3 13.3 0 1 0 -26.6 0M1676.41 1150.18a13.3 13.3 0 1 0 26.6 0a13.3 13.3 0 1 0 -26.6 0M1696.51 1138.23a13.3 13.3 0 1 0 26.6 0a13.3 13.3 0 1 0 -26.6 0M1716.62 1126.12a13.3 13.3 0 1 0 26.6 0a13.3 13.3 0 1 0 -26.6 0" stroke="#00ffff" stroke-width="5.3" fill="none"/>
<polyline points="202.00,1564.00 218.08,1563.98 234.17,1563.90 250.25,1563.75 266.33,1563.52 282.42,1563.22 298.50,1562.82 314.58,1562.34 330.67,1561.77 346.75,1561.10 362.83,1560.34 378.92,1559.48 395.00,1558.52 411.08,1557.45 427.17,1556.28 443.25,1555.00 459.33,1553.61 475.42,1552.11 491.50,1550.50 507.58,1548.78 523.67,1546.94 539.75,1544.99 555.83,1542.92 571.92,1540.74 588.00,1538.43 604.08,1536.00 620.17,1533.46 636.25,1530.79 652.33,1527.99 668.42,1525.07 684.50,1522.03 700.58,1518.86 716.67,1515.56 732.75,1512.14 748.83,1508.58 764.92,1504.90 781.00,1501.08 797.08,1497.13 813.17,1493.05 829.25,1488.84 845.33,1484.49 861.42,1480.01 877.50,1475.39 893.58,1470.64 909.67,1465.75 925.75,1460.72 941.83,1455.56 957.92,1450.25 974.00,1444.81 990.08,1439.22 1006.17,1433.50 1022.25,1427.63 1038.33,1421.62 1054.42,1415.47 1070.50,1409.17 1086.58,1402.73 1102.67,1396.15 1118.75,1389.42 1134.83,1382.54 1150.92,1375.52 1167.00,1368.35 1183.08,1361.04 1199.17,1353.57 1215.25,1345.96 1231.33,1338.20 1247.42,1330.29 1263.50,1322.23 1279.58,1314.02 1295.67,1305.66 1311.75,1297.15 1327.83,1288.48 1343.92,1279.66 1360.00,1270.69 1376.08,1261.57 1392.17,1252.29 1408.25,1242.86 1424.33,1233.27 1440.42,1223.53 1456.50,1213.63 1472.58,1203.58 1488.67,1193.37 1504.75,1183.00 1520.83,1172.48 1536.92,1161.79 1553.00,1150.95 1569.08,1139.95 1585.17,1128.79 1601.25,1117.47 1617.33,1106.00 1633.42,1094.36 1649.50,1082.56 1665.58,1070.60 1681.67,1058.47 1697.75,1046.19 1713.83,1033.74 1729.92,1021.13 1746.00,1008.36 1762.08,995.43 1778.17,982.33 1794.25,969.06 1810.33,955.63 1826.42,942.04 1842.50,928.28 1858.58,914.36 1874.67,900.27 1890.75,886.01 1906.83,871.59 1922.92,857.00 1939.00,842.24 1955.08,827.31 1971.17,812.22 1987.25,796.96 2003.33,781.53 2019.42,765.93 2035.50,750.16 2051.58,734.22 2067.67,718.11 2083.75,701.83 2099.83,685.38 2115.92,668.75 2132.00,651.96" stroke="#0040ff" stroke-width="10.0" fill="none" stroke-linejoin="round"/>
<path d="M671.20 1535.76a13.3 13.3 0 1 0 26.6 0a13.3 13.3 0 1 0 -26.6 0M691.30 1529.24a13.3 13.3 0 1 0 26.6 0a13.3 13.3 0 1 0 -26.6 0M711.41 1522.51a13.3 13.3 0 1 0 26.6 0a13.3 13.3 0 1 0 -26.6 0M731.51 1516.60a13.3 13.3 0 1 0 26.6 0a13.3 13.3 0 1 0 -26.6 0M751.62 1510.49a13.3 13.3 0 1 0 26.6 0a13.3 13.3 0 1 0 -26.6 0M771.72 1503.67a13.3 13.3 0 1 0 26.6 0a13.3 13.3 0 1 0 -26.6 0M791.83 1497.14a13.3 13.3 0 1 0 26.6 0a13.3 13.3 0 1 0 -26.6 0M811.93 1489.91a13.3 13.3 0 1 0 26.6 0a13.3 13.3 0 1 0 -26.6 0M832.03 1481.70a13.3 13.3 0 1 0 26.6 0a13.3 13.3 0 1 0 -26.6 0M852.14 1474.29a13.3 13.3 0 1 0 26.6 0a13.3 13.3 0 1 0 -26.6 0M872.24 1466.42a13.3 13.3 0 1 0 26.6 0a13.3 13.3 0 1 0 -26.6 0M892.35 1459.36a13.3 13.3 0 1 0 26.6 0a13.3 13.3 0 1 0 -26.6 0M912.45 1452.75a13.3 13.3 0 1 0 26.6 0a13.3 13.3 0 1 0 -26.6 0M932.55 1445.94a13.3 13.3 0 1 0 26.6 0a13.3 13.3 0 1 0 -26.6 0M952.66 1438.90a13.3 13.3 0 1 0 26.6 0a13.3 13.3 0 1 0 -26.6 0M972.76 1432.75a13.3 13.3 0 1 0 26.6 0a13.3 13.3 0 1 0 -26.6 0M992.87 1426.37a13.3 13.3 0 1 0 26.6 0a13.3 13.3 0 1 0 -26.6 0M1012.97 1419.78a13.3 13.3 0 1 0 26.6 0a13.3 13.3 0 1 0 -26.6 0M1033.08 1413.81a13.3 13.3 0 1 0 26.6 0a13.3 13.3 0 1 0 -26.6 0M1053.18 1407.62a13.3 13.3 0 1 0 26.6 0a13.3 13.3 0 1 0 -26.6 0M1073.28 1401.21a13.3 13.3 0 1 0 26.6 0a13.3 13.3 0 1 0 -26.6 0M1093.39 1394.48a13.3 13.3 0 1 0 26.6 0a13.3 13.3 0 1 0 -26.6 0M1113.49 1386.00a13.3 13.3 0 1 0 26.6 0a13.3 13.3 0 1 0 -26.6 0M1133.60 1377.29a13.3 13.3 0 1 0 26.6 0a13.3 13.3 0 1 0 -26.6 0M1153.70 1368.35a13.3 13.3 0 1 0 26.6 0a13.3 13.3 0 1 0 -26.6 0M1173.80 1361.14a13.3 13.3 0 1 0 26.6 0a13.3 13.3 0 1 0 -26.6 0M1193.91 1353.70a13.3 13.3 0 1 0 26.6 0a13.3 13.3 0 1 0 -26.6 0M1214.01 1345.42a13.3 13.3 0 1 0 26.6 0a13.3 13.3 0 1 0 -26.6 0M1234.12 1336.90a13.3 13.3 0 1 0 26.6 0a13.3 13.3 0 1 0 -26.6 0M1254.22 1327.31a13.3 13.3 0 1 0 26.6 0a13.3 13.3 0 1 0 -26.6 0M1274.33 1317.49a13.3 13.3 0 1 0 26.6 0a13.3 13.3 0 1 0 -26.6 0M1294.43 1305.90a13.3 13.3 0 1 0 26.6 0a13.3 13.3 0 1 0 -26.6 0M1314.53 1294.08a13.3 13.3 0 1 0 26.6 0a13.3 13.3 0 1 0 -26.6 0M1334.64 1280.23a13.3 13.3 0 1 0 26.6 0a13.3 13.3 0 1 0 -26.6 0M1354.74 1266.15a13.3 13.3 0 1 0 26.6 0a13.3 13.3 0 1 0 -26.6 0M1374.85 1254.63a13.3 13.3 0 1 0 26.6 0a13.3 13.3 0 1 0 -26.6 0M1394.95 1242.86a13.3 13.3 0 1 0 26.6 0a13.3 13.3 0 1 0 -26.6 0M1415.05 1230.85a13.3 13.3 0 1 0 26.6 0a13.3 13.3 0 1 0 -26.6 0M1435.16 1218.60a13.3 13.3 0 1 0 26.6 0a13.3 13.3 0 1 0 -26.6 0M1455.26 1206.11a13.3 13.3 0 1 0 26.6 0a13.3 13.3 0 1 0 -26.6 0M1475.37 1193.37a13.3 13.3 0 1 0 26.6 0a13.3 13.3 0 1 0 -26.6 0M1495.47 1180.38a13.3 13.3 0 1 0 26.6 0a13.3 13.3 0 1 0 -26.6 0M1515.58 1167.15a13.3 13.3 0 1 0 26.6 0a13.3 13.3 0 1 0 -26.6 0M1535.68 1153.68a13.3 13.3 0 1 0 26.6 0a13.3 13.3 0 1 0 -26.6 0M1555.78 1139.95a13.3 13.3 0 1 0 26.6 0a13.3 13.3 0 1 0 -26.6 0M1575.89 1125.98a13.3 13.3 0 1 0 26.6 0a13.3 13.3 0 1 0 -26.6 0M1595.99 1111.76a13.3 13.3 0 1 0 26.6 0a13.3 13.3 0 1 0 -26.6 0M1616.10 1097.28a13.3 13.3 0 1 0 26.6 0a13.3 13.3 0 1 0 -26.6 0M1636.20 1082.56a13.3 13.3 0 1 0 26.6 0a13.3 13.3 0 1 0 -26.6 0M1656.30 1067.58a13.3 13.3 0 1 0 26.6 0a13.3 13.3 0 1 0 -26.6 0M1676.41 1052.35a13.3 13.3 0 1 0 26.6 0a13.3 13.3 0 1 0 -26.6 0M1696.51 1040.94a13.3 13.3 0 1 0 26.6 0a13.3 13.3 0 1 0 -26.6 0M1716.62 1036.39a13.3 13.3 0 1 0 26.6 0a13.3 13.3 0 1 0 -26.6 0" stroke="#0040ff" stroke-width="5.3" fill="none"/>
<polyline points="202.00,1564.00 218.08,1563.99 234.17,1563.93 250.25,1563.82 266.33,1563.65 282.42,1563.42 298.50,1563.12 314.58,1562.75 330.67,1562.31 346.75,1561.79 362.83,1561.19 378.92,1560.51 395.00,1559.75 411.08,1558.90 427.17,1557.96 443.25,1556.94 459.33,1555.82 475.42,1554.61 491.50,1553.31 507.58,1551.91 523.67,1550.41 539.75,1548.82 555.83,1547.12 571.92,1545.33 588.00,1543.43 604.08,1541.43 620.17,1539.32 636.25,1537.11 652.33,1534.79 668.42,1532.36 684.50,1529.83 700.58,1527.18 716.67,1524.43 732.75,1521.56 748.83,1518.57 764.92,1515.48 781.00,1512.27 797.08,1508.94 813.17,1505.50 829.25,1501.94 845.33,1498.26 861.42,1494.46 877.50,1490.54 893.58,1486.50 909.67,1482.34 925.75,1478.06 941.83,1473.65 957.92,1469.12 974.00,1464.47 990.08,1459.69 1006.17,1454.78 1022.25,1449.75 1038.33,1444.59 1054.42,1439.30 1070.50,1433.89 1086.58,1428.34 1102.67,1422.66 1118.75,1416.86 1134.83,1410.92 1150.92,1404.85 1167.00,1398.65 1183.08,1392.31 1199.17,1385.84 1215.25,1379.24 1231.33,1372.50 1247.42,1365.63 1263.50,1358.62 1279.58,1351.47 1295.67,1344.18 1311.75,1336.76 1327.83,1329.20 1343.92,1321.50 1360.00,1313.66 1376.08,1305.68 1392.17,1297.57 1408.25,1289.30 1424.33,1280.90 1440.42,1272.36 1456.50,1263.67 1472.58,1254.84 1488.67,1245.87 1504.75,1236.75 1520.83,1227.49 1536.92,1218.08 1553.00,1208.53 1569.08,1198.83 1585.17,1188.98 1601.25,1178.99 1617.33,1168.85 1633.42,1158.56 1649.50,1148.12 1665.58,1137.54 1681.67,1126.80 1697.75,1115.92 1713.83,1104.88 1729.92,1093.70 1746.00,1082.36 1762.08,1070.87 1778.17,1059.23 1794.25,1047.44 1810.33,1035.50 1826.42,1023.40 1842.50,1011.14 1858.58,998.74 1874.67,986.18 1890.75,973.46 1906.83,960.59 1922.92,947.56 1939.00,934.38 1955.08,921.04 1971.17,907.55 1987.25,893.89 2003.33,880.08 2019.42,866.11 2035.50,851.98 2051.58,837.70 2067.67,823.25 2083.75,808.65 2099.83,793.88 2115.92,778.95 2132.00,763.87" stroke="#ff00bf" stroke-width="10.0" fill="none" stroke-linejoin="round"/>
<path d="M671.20 1529.83a13.3 13.3 0 1 0 26.6 0a13.3 13.3 0 1 0 -26.6 0M691.30 1526.50a13.3 13.3 0 1 0 26.6 0a13.3 13.3 0 1 0 -26.6 0M711.41 1523.00a13.3 13.3 0 1 0 26.6 0a13.3 13.3 0 1 0 -26.6 0M731.51 1519.33a13.3 13.3 0 1 0 26.6 0a13.3 13.3 0 1 0 -26.6 0M751.62 1515.48a13.3 13.3 0 1 0 26.6 0a13.3 13.3 0 1 0 -26.6 0M771.72 1511.45a13.3 13.3 0 1 0 26.6 0a13.3 13.3 0 1 0 -26.6 0M791.83 1507.23a13.3 13.3 0 1 0 26.6 0a13.3 13.3 0 1 0 -26.6 0M811.93 1502.84a13.3 13.3 0 1 0 26.6 0a13.3 13.3 0 1 0 -26.6 0M832.03 1498.26a13.3 13.3 0 1 0 26.6 0a13.3 13.3 0 1 0 -26.6 0M852.14 1493.49a13.3 13.3 0 1 0 26.6 0a13.3 13.3 0 1 0 -26.6 0M872.24 1488.53a13.3 13.3 0 1 0 26.6 0a13.3 13.3 0 1 0 -26.6 0M892.35 1483.39a13.3 13.3 0 1 0 26.6 0a13.3 13.3 0 1 0 -26.6 0M912.45 1478.06a13.3 13.3 0 1 0 26.6 0a13.3 13.3 0 1 0 -26.6 0M932.55 1472.53a13.3 13.3 0 1 0 26.6 0a13.3 13.3 0 1 0 -26.6 0M952.66 1466.81a13.3 13.3 0 1 0 26.6 0a13.3 13.3 0 1 0 -26.6 0M972.76 1460.89a13.3 13.3 0 1 0 26.6 0a13.3 13.3 0 1 0 -26.6 0M992.87 1454.78a13.3 13.3 0 1 0 26.6 0a13.3 13.3 0 1 0 -26.6 0M1012.97 1448.47a13.3 13.3 0 1 0 26.6 0a13.3 13.3 0 1 0 -26.6 0M1033.08 1441.96a13.3 13.3 0 1 0 26.6 0a13.3 13.3 0 1 0 -26.6 0M1053.18 1435.25a13.3 13.3 0 1 0 26.6 0a13.3 13.3 0 1 0 -26.6 0M1073.28 1428.34a13.3 13.3 0 1 0 26.6 0a13.3 13.3 0 1 0 -26.6 0M1093.39 1420.46a13.3 13.3 0 1 0 26.6 0a13.3 13.3 0 1 0 -26.6 0M1113.49 1412.38a13.3 13.3 0 1 0 26.6 0a13.3 13.3 0 1 0 -26.6 0M1133.60 1404.09a13.3 13.3 0 1 0 26.6 0a13.3 13.3 0 1 0 -26.6 0M1153.70 1395.60a13.3 13.3 0 1 0 26.6 0a13.3 13.3 0 1 0 -26.6 0M1173.80 1387.66a13.3 13.3 0 1 0 26.6 0a13.3 13.3 0 1 0 -26.6 0M1193.91 1379.51a13.3 13.3 0 1 0 26.6 0a13.3 13.3 0 1 0 -26.6 0M1214.01 1371.15a13.3 13.3 0 1 0 26.6 0a13.3 13.3 0 1 0 -26.6 0M1234.12 1362.57a13.3 13.3 0 1 0 26.6 0a13.3 13.3 0 1 0 -26.6 0M1254.22 1354.34a13.3 13.3 0 1 0 26.6 0a13.3 13.3 0 1 0 -26.6 0M1274.33 1345.88a13.3 13.3 0 1 0 26.6 0a13.3 13.3 0 1 0 -26.6 0M1294.43 1337.21a13.3 13.3 0 1 0 26.6 0a13.3 13.3 0 1 0 -26.6 0M1314.53 1328.33a13.3 13.3 0 1 0 26.6 0a13.3 13.3 0 1 0 -26.6 0M1334.64 1319.23a13.3 13.3 0 1 0 26.6 0a13.3 13.3 0 1 0 -26.6 0M1354.74 1309.82a13.3 13.3 0 1 0 26.6 0a13.3 13.3 0 1 0 -26.6 0M1374.85 1300.05a13.3 13.3 0 1 0 26.6 0a13.3 13.3 0 1 0 -26.6 0M1394.95 1290.07a13.3 13.3 0 1 0 26.6 0a13.3 13.3 0 1 0 -26.6 0M1415.05 1279.86a13.3 13.3 0 1 0 26.6 0a13.3 13.3 0 1 0 -26.6 0M1435.16 1269.43a13.3 13.3 0 1 0 26.6 0a13.3 13.3 0 1 0 -26.6 0M1455.26 1258.78a13.3 13.3 0 1 0 26.6 0a13.3 13.3 0 1 0 -26.6 0M1475.37 1247.90a13.3 13.3 0 1 0 26.6 0a13.3 13.3 0 1 0 -26.6 0M1495.47 1236.74a13.3 13.3 0 1 0 26.6 0a13.3 13.3 0 1 0 -26.6 0M1515.58 1225.34a13.3 13.3 0 1 0 26.6 0a13.3 13.3 0 1 0 -26.6 0M1535.68 1213.73a13.3 13.3 0 1 0 26.6 0a13.3 13.3 0 1 0 -26.6 0M1555.78 1201.88a13.3 13.3 0 1 0 26.6 0a13.3 13.3 0 1 0 -26.6 0M1575.89 1188.79a13.3 13.3 0 1 0 26.6 0a13.3 13.3 0 1 0 -26.6 0M1595.99 1175.46a13.3 13.3 0 1 0 26.6 0a13.3 13.3 0 1 0 -26.6 0M1616.10 1161.91a13.3 13.3 0 1 0 26.6 0a13.3 13.3 0 1 0 -26.6 0M1636.20 1148.12a13.3 13.3 0 1 0 26.6 0a13.3 13.3 0 1 0 -26.6 0M1656.30 1133.34a13.3 13.3 0 1 0 26.6 0a13.3 13.3 0 1 0 -26.6 0M1676.41 1115.78a13.3 13.3 0 1 0 26.6 0a13.3 13.3 0 1 0 -26.6 0M1696.51 1095.96a13.3 13.3 0 1 0 26.6 0a13.3 13.3 0 1 0 -26.6 0M1716.62 1074.88a13.3 13.3 0 1 0 26.6 0a13.3 13.3 0 1 0 -26.6 0" stroke="#ff00bf" stroke-width="5.3" fill="none"/>
<text x="200.50" y="1648.5" font-size="58.3" fill="#262626" stroke="#262626" stroke-width="1.1" text-anchor="middle">0</text>
<text x="522.17" y="1648.5" font-size="58.3" fill="#262626" stroke="#262626" stroke-width="1.1" text-anchor="middle">1</text>
<text x="843.83" y="1648.5" font-size="58.3" fill="#262626" stroke="#262626" stroke-width="1.1" text-anchor="middle">2</text>
<text x="1165.50" y="1648.5" font-size="58.3" fill="#262626" stroke="#262626" stroke-width="1.1" text-anchor="middle">3</text>
<text x="1487.17" y="1648.5" font-size="58.3" fill="#262626" stroke="#262626" stroke-width="1.1" text-anchor="middle">4</text>
<text x="1808.83" y="1648.5" font-size="58.3" fill="#262626" stroke="#262626" stroke-width="1.1" text-anchor="middle">5</text>
<text x="2130.50" y="1648.5" font-size="58.3" fill="#262626" stroke="#262626" stroke-width="1.1" text-anchor="middle">6</text>
<text x="175.5" y="1587.00" font-size="58.3" fill="#262626" stroke="#262626" stroke-width="1.1" text-anchor="end">0</text>
<text x="175.5" y="1332.67" font-size="58.3" fill="#262626" stroke="#262626" stroke-width="1.1" text-anchor="end">5</text>
<text x="175.5" y="1078.33" font-size="58.3" fill="#262626" stroke="#262626" stroke-width="1.1" text-anchor="end">10</text>
<text x="175.5" y="824.00" font-size="58.3" fill="#262626" stroke="#262626" stroke-width="1.1" text-anchor="end">15</text>
<text x="175.5" y="569.67" font-size="58.3" fill="#262626" stroke="#262626" stroke-width="1.1" text-anchor="end">20</text>
<text x="175.5" y="315.33" font-size="58.3" fill="#262626" stroke="#262626" stroke-width="1.1" text-anchor="end">25</text>
<text x="175.5" y="61.00" font-size="58.3" fill="#262626" stroke="#262626" stroke-width="1.1" text-anchor="end">30</text>
<text x="1164.5" y="1735" font-size="64.8" font-weight="bold" fill="#262626" stroke="#262626" stroke-width="0.8" word-spacing="2.5" text-anchor="middle">Frequency [MHz]</text>
<text transform="translate(74.2 803.2) rotate(-90)" x="0" y="0" font-size="64.8" font-weight="bold" fill="#262626" stroke="#262626" stroke-width="0.8" word-spacing="2.5" text-anchor="middle">Attenuation [dB/mm]</text>
<rect x="260.0" y="95.95" width="555.9" height="528.9499999999999" fill="#ffffff" stroke="#262626" stroke-width="3.8"/>
<line x1="276.9" y1="141.00" x2="456.0" y2="141.00" stroke="#ff0000" stroke-width="10.0"/>
<text x="468.5" y="161.20" font-size="53.2" fill="#000" stroke="#000" stroke-width="1.0">EP-W-52</text>
<line x1="276.9" y1="214.32" x2="456.0" y2="214.32" stroke="#ffbf00" stroke-width="10.0"/>
<text x="468.5" y="234.52" font-size="53.2" fill="#000" stroke="#000" stroke-width="1.0">Ep-W-53</text>
<line x1="276.9" y1="287.64" x2="456.0" y2="287.64" stroke="#80ff00" stroke-width="10.0"/>
<text x="468.5" y="307.84" font-size="53.2" fill="#000" stroke="#000" stroke-width="1.0">Ep-WR-48-03</text>
<line x1="276.9" y1="360.96" x2="456.0" y2="360.96" stroke="#00ff40" stroke-width="10.0"/>
<text x="468.5" y="381.16" font-size="53.2" fill="#000" stroke="#000" stroke-width="1.0">Ep-WR-47-04</text>
<line x1="276.9" y1="434.28" x2="456.0" y2="434.28" stroke="#00ffff" stroke-width="10.0"/>
<text x="468.5" y="454.48" font-size="53.2" fill="#000" stroke="#000" stroke-width="1.0">Ep-WR-41-08</text>
<line x1="276.9" y1="507.60" x2="456.0" y2="507.60" stroke="#0040ff" stroke-width="10.0"/>
<text x="468.5" y="527.80" font-size="53.2" fill="#000" stroke="#000" stroke-width="1.0">Ep-WR-38-12</text>
<line x1="276.9" y1="580.92" x2="456.0" y2="580.92" stroke="#ff00bf" stroke-width="10.0"/>
<text x="468.5" y="601.12" font-size="53.2" fill="#000" stroke="#000" stroke-width="1.0">PU2-W-52</text>
</svg></body></html>
